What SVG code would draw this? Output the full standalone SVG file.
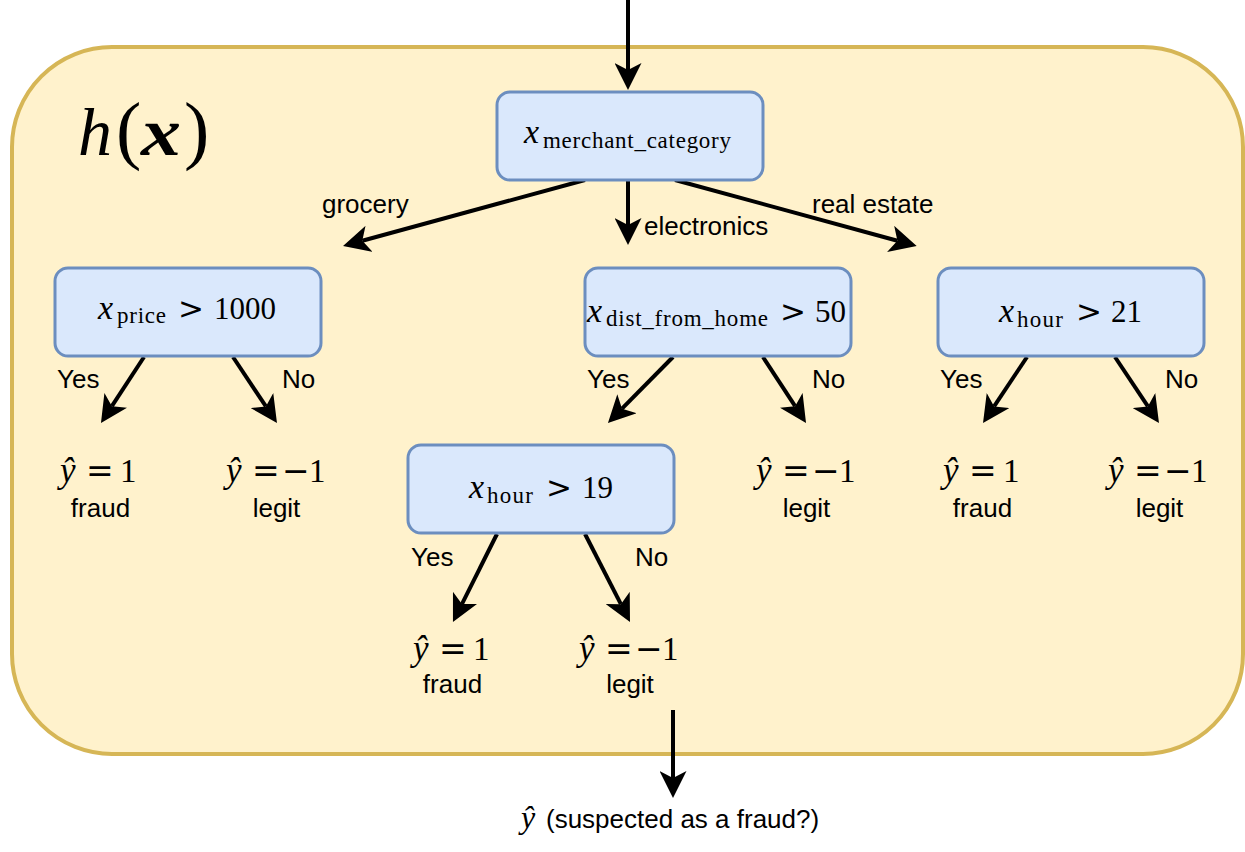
<svg xmlns="http://www.w3.org/2000/svg" width="1245" height="852" viewBox="0 0 1245 852">
  <defs>
    <style>
      .frame { fill: #fff2cc; stroke: #d6b656; stroke-width: 4; }
      .node { fill: #dae8fc; stroke: #6c8ebf; stroke-width: 3; }
      .edge { fill: none; stroke: #000; stroke-width: 4; marker-end: url(#arrow); }
      .lbl { font-family: "Liberation Sans", Arial, sans-serif; font-size: 26px; fill: #000; }
      .mi { font-family: "Liberation Serif", "Times New Roman", serif; font-style: italic; fill: #000; }
      .mr { font-family: "Liberation Serif", "Times New Roman", serif; fill: #000; }
      .op { font-family: "DejaVu Sans", sans-serif; fill: #000; }
      .leafmath { font-size: 33px; }
      .hat { font-size: 35px; }
      .nodemath { font-size: 31px; }
      .var { font-size: 34px; }
      .sub { font-size: 23px; }
    </style>
    <!-- classic arrowhead; line ends at the notch, tip sits 20px further on -->
    <marker id="arrow" markerUnits="userSpaceOnUse" viewBox="0 0 27 27" markerWidth="27" markerHeight="27" refX="7" refY="13.5" orient="auto">
      <path d="M0,0 L27,13.5 L0,27 L7,13.5 Z" fill="#000"/>
    </marker>
  </defs>

  <!-- model boundary -->
  <g id="frame">
    <rect class="frame" x="12" y="47" width="1231" height="707" rx="100" ry="100"/>
  </g>

  <!-- h(x) title -->
  <g id="title">
    <text class="mi" x="78" y="155" font-size="68">h</text>
    <text class="mr" x="116" y="155" font-size="76">(</text>
    <text class="mi" x="141" y="155" font-size="68" font-weight="bold" textLength="40" lengthAdjust="spacingAndGlyphs">x</text>
    <text class="mr" x="184" y="155" font-size="76">)</text>
  </g>

  <!-- connectors -->
  <g id="connectors">
    <path class="edge" d="M628,0 L628,70"/>
    <path class="edge" d="M585,180 L362.3,240.7"/>
    <path class="edge" d="M628,180 L628,225"/>
    <path class="edge" d="M675,180 L897.4,240.7"/>
    <path class="edge" d="M144,357 L111.9,406.2"/>
    <path class="edge" d="M233,357 L265.9,406.4"/>
    <path class="edge" d="M673,357 L622,408.7"/>
    <path class="edge" d="M763,357 L795.1,406.2"/>
    <path class="edge" d="M1027,357 L994.1,406.4"/>
    <path class="edge" d="M1115,357 L1147.9,406.4"/>
    <path class="edge" d="M497,534 L461.9,604.1"/>
    <path class="edge" d="M585,534 L620.9,604.2"/>
    <path class="edge" d="M673,710 L673,778"/>
  </g>

  <!-- branch labels -->
  <g id="edge-labels">
    <text class="lbl" x="322" y="213">grocery</text>
    <text class="lbl" x="644" y="235">electronics</text>
    <text class="lbl" x="812" y="213">real estate</text>
    <text class="lbl" x="57" y="388">Yes</text>
    <text class="lbl" x="282" y="388">No</text>
    <text class="lbl" x="587" y="388">Yes</text>
    <text class="lbl" x="812" y="388">No</text>
    <text class="lbl" x="940" y="388">Yes</text>
    <text class="lbl" x="1165" y="388">No</text>
    <text class="lbl" x="411" y="566">Yes</text>
    <text class="lbl" x="635" y="566">No</text>
  </g>

  <!-- root split -->
  <g id="node-merchant">
    <rect class="node" x="497" y="92" width="266" height="88" rx="13"/>
    <text class="mi var" x="524" y="143">x</text>
    <text class="mr sub" x="543" y="148" textLength="188">merchant_category</text>
  </g>

  <!-- grocery branch -->
  <g id="node-price">
    <rect class="node" x="55" y="268" width="266" height="88" rx="13"/>
    <text class="mi var" x="98" y="319">x</text>
    <text class="mr sub" x="117" y="323" textLength="49">price</text>
    <text class="op nodemath" x="178" y="319">&gt;</text>
    <text class="mr nodemath" x="214" y="319">1000</text>
  </g>

  <!-- electronics branch -->
  <g id="node-dist">
    <rect class="node" x="585" y="268" width="266" height="88" rx="13"/>
    <text class="mi var" x="587" y="322">x</text>
    <text class="mr sub" x="606" y="326" textLength="162">dist_from_home</text>
    <text class="op nodemath" x="780" y="322">&gt;</text>
    <text class="mr nodemath" x="815" y="322">50</text>
  </g>

  <!-- real estate branch -->
  <g id="node-hour21">
    <rect class="node" x="938" y="268" width="266" height="88" rx="13"/>
    <text class="mi var" x="999" y="322">x</text>
    <text class="mr sub" x="1017" y="327" textLength="46">hour</text>
    <text class="op nodemath" x="1076" y="322">&gt;</text>
    <text class="mr nodemath" x="1111" y="322">21</text>
  </g>

  <g id="node-hour19">
    <rect class="node" x="408" y="445" width="266" height="88" rx="13"/>
    <text class="mi var" x="469" y="498">x</text>
    <text class="mr sub" x="487" y="503" textLength="46">hour</text>
    <text class="op nodemath" x="546" y="498">&gt;</text>
    <text class="mr nodemath" x="582" y="498">19</text>
  </g>

  <!-- leaves -->
  <g id="leaf-price-yes">
    <text class="mi hat" x="60" y="482">ŷ</text>
    <text class="op leafmath" x="86" y="482">=</text>
    <text class="mr leafmath" x="120" y="482">1</text>
    <text class="lbl" x="100.5" y="517" text-anchor="middle">fraud</text>
  </g>
  <g id="leaf-price-no">
    <text class="mi hat" x="226" y="482">ŷ</text>
    <text class="op leafmath" x="252" y="482">=</text>
    <text class="op leafmath" x="282" y="482">−</text>
    <text class="mr leafmath" x="309" y="482">1</text>
    <text class="lbl" x="276.5" y="517" text-anchor="middle">legit</text>
  </g>
  <g id="leaf-dist-no">
    <text class="mi hat" x="756" y="482">ŷ</text>
    <text class="op leafmath" x="782" y="482">=</text>
    <text class="op leafmath" x="812" y="482">−</text>
    <text class="mr leafmath" x="839" y="482">1</text>
    <text class="lbl" x="806.5" y="517" text-anchor="middle">legit</text>
  </g>
  <g id="leaf-hour21-yes">
    <text class="mi hat" x="943" y="482">ŷ</text>
    <text class="op leafmath" x="969" y="482">=</text>
    <text class="mr leafmath" x="1003" y="482">1</text>
    <text class="lbl" x="982.5" y="517" text-anchor="middle">fraud</text>
  </g>
  <g id="leaf-hour21-no">
    <text class="mi hat" x="1108" y="482">ŷ</text>
    <text class="op leafmath" x="1134" y="482">=</text>
    <text class="op leafmath" x="1164" y="482">−</text>
    <text class="mr leafmath" x="1191" y="482">1</text>
    <text class="lbl" x="1159.5" y="517" text-anchor="middle">legit</text>
  </g>
  <g id="leaf-hour19-yes">
    <text class="mi hat" x="413" y="660">ŷ</text>
    <text class="op leafmath" x="439" y="660">=</text>
    <text class="mr leafmath" x="473" y="660">1</text>
    <text class="lbl" x="452.5" y="693" text-anchor="middle">fraud</text>
  </g>
  <g id="leaf-hour19-no">
    <text class="mi hat" x="579" y="660">ŷ</text>
    <text class="op leafmath" x="605" y="660">=</text>
    <text class="op leafmath" x="635" y="660">−</text>
    <text class="mr leafmath" x="662" y="660">1</text>
    <text class="lbl" x="630" y="693" text-anchor="middle">legit</text>
  </g>

  <!-- output -->
  <g id="output">
    <text class="mi" x="521" y="828" font-size="32">ŷ</text>
    <text class="lbl" x="546" y="828">(suspected as a fraud?)</text>
  </g>
</svg>
